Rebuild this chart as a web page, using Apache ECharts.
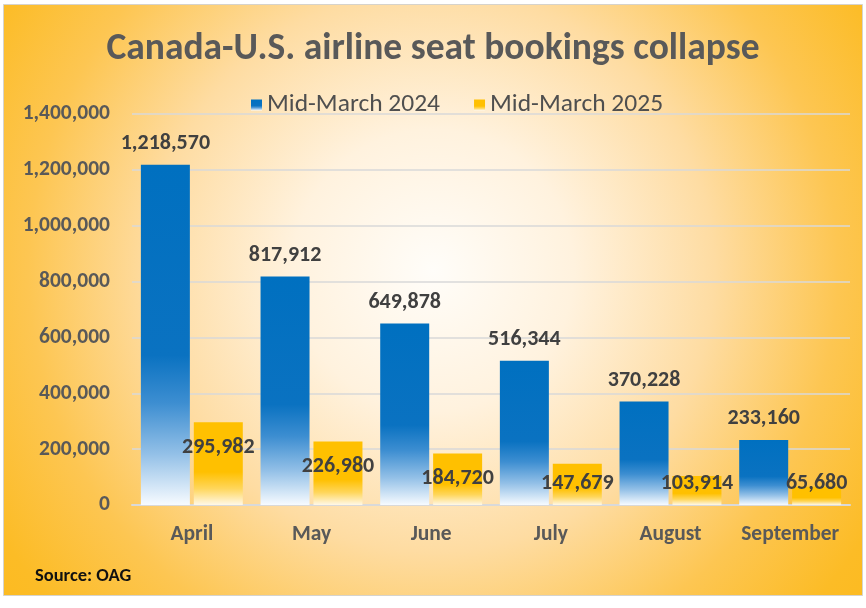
<!DOCTYPE html>
<html>
<head>
<meta charset="utf-8">
<script src="https://cdn.jsdelivr.net/npm/echarts@6/dist/echarts.min.js"></script>
<style>
  html, body { margin: 0; padding: 0; background: #fff; }
  #main { width: 866px; height: 608px; }
</style>
</head>
<body>
<div id="main"></div>
<script>
(function(){

    /* 数据 */
    var months = ['April', 'May', 'June', 'July', 'August', 'September'];
    var seats2024 = [1218570, 817912, 649878, 516344, 370228, 233160];
    var seats2025 = [295982, 226980, 184720, 147679, 103914, 65680];
    var seriesNames = ['Mid-March 2024', 'Mid-March 2025'];

    var FONT = "Carlito, 'Liberation Sans Narrow', 'DejaVu Sans Condensed', sans-serif";

    // 小数值的标签放到底部
    var yellowData = seats2025.map(function (v) {
        if (v < 165000) {
            return { value: v, label: { position: 'insideBottom', distance: 11 } };
        }
        return v;
    });

    var chart = echarts.init(document.getElementById('main'));

    var option = {
        backgroundColor: '#ffffff',
        animation: false,
        title: {
            text: 'Canada-U.S. airline seat bookings collapse',
            left: 'center',
            top: 26,
            textStyle: {
                fontFamily: FONT,
                fontSize: 37.5,
                fontWeight: 'bold',
                color: '#595959'
            }
        },
        legend: {
            top: 87,
            left: 246,
            itemWidth: 11,
            itemHeight: 11,
            itemGap: 34,
            icon: 'rect',
            textStyle: {
                fontFamily: FONT,
                fontSize: 25.5,
                color: '#4f4f4f'
            },
            data: seriesNames
        },
        grid: {
            left: 132,
            right: 16,
            top: 114,
            bottom: 103,
            containLabel: false
        },
        graphic: [
            {
                type: 'rect',
                z: -10,
                silent: true,
                shape: { x: 3.5, y: 4.5, width: 859, height: 591 },
                style: {
                    fill: {
                        type: 'radial',
                        x: 0.5, y: 0.45, r: 0.95,
                        colorStops: [
                            { offset: 0, color: '#fffdf9' },
                            { offset: 0.25, color: '#fff2de' },
                            { offset: 0.5, color: '#fedca2' },
                            { offset: 0.72, color: '#fdc652' },
                            { offset: 0.9, color: '#fcbc26' },
                            { offset: 1, color: '#fcba1e' }
                        ],
                        global: false
                    },
                    stroke: '#d6d3cc',
                    lineWidth: 1
                }
            },
            {
                type: 'text',
                left: 35,
                top: 567,
                style: {
                    text: 'Source: OAG',
                    font: 'bold 18.5px ' + FONT,
                    fill: '#111111'
                }
            }
        ],
        xAxis: {
            type: 'category',
            data: months,
            axisLine: { lineStyle: { color: '#d9d9d9', width: 2 } },
            axisTick: { show: false },
            axisLabel: {
                interval: 0,
                margin: 19,
                fontFamily: FONT,
                fontSize: 21.5,
                fontWeight: 'bold',
                color: '#595959'
            }
        },
        yAxis: {
            type: 'value',
            min: 0,
            max: 1400000,
            interval: 200000,
            axisLine: { show: false },
            axisTick: { show: false },
            splitLine: { lineStyle: { color: '#d9d9d9', width: 1.5 } },
            axisLabel: {
                margin: 22,
                fontFamily: FONT,
                fontSize: 21.5,
                fontWeight: 'bold',
                color: '#595959',
                formatter: function (v) { return v.toLocaleString('en-US'); }
            }
        },
        series: [
            {
                name: seriesNames[0],
                type: 'bar',
                barWidth: 49,
                barGap: '8%',
                data: seats2024,
                itemStyle: {
                    color: {
                        type: 'linear', x: 0, y: 0, x2: 0, y2: 1,
                        colorStops: [
                            { offset: 0, color: '#0070c0' },
                            { offset: 0.56, color: '#0a72c1' },
                            { offset: 0.7, color: '#3d8ed1' },
                            { offset: 0.85, color: '#93c0e7' },
                            { offset: 1, color: '#f7fbff' }
                        ],
                        global: false
                    }
                },
                label: {
                    show: true,
                    position: 'top',
                    distance: 10,
                    fontFamily: FONT,
                    fontSize: 22,
                    fontWeight: 'bold',
                    color: '#404040',
                    formatter: function (p) { return p.value.toLocaleString('en-US'); }
                }
            },
            {
                name: seriesNames[1],
                type: 'bar',
                barWidth: 49,
                data: yellowData,
                itemStyle: {
                    color: {
                        type: 'linear', x: 0, y: 0, x2: 0, y2: 1,
                        colorStops: [
                            { offset: 0, color: '#ffc000' },
                            { offset: 0.6, color: '#ffc000' },
                            { offset: 0.8, color: '#ffd65a' },
                            { offset: 1, color: '#fff8e8' }
                        ],
                        global: false
                    }
                },
                label: {
                    show: true,
                    position: 'insideTop',
                    distance: 14,
                    fontFamily: FONT,
                    fontSize: 22,
                    fontWeight: 'bold',
                    color: '#404040',
                    formatter: function (p) { return p.value.toLocaleString('en-US'); }
                }
            }
        ]
    };

    chart.setOption(option);

})();
</script>
</body>
</html>
